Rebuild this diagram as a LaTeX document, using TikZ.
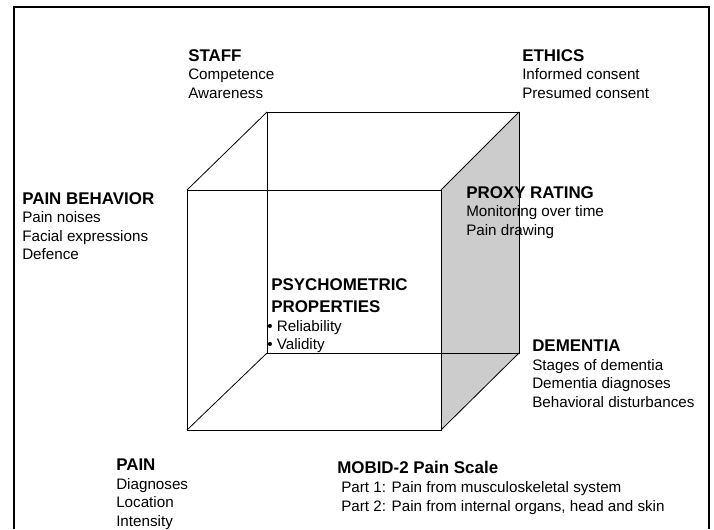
\documentclass[tikz,border=0pt]{standalone}
\usepackage{fontspec}
\setmainfont{Liberation Sans}
\newcommand{\hd}[1]{{\fontsize{12.7}{13.9}\selectfont\bfseries #1}}

\begin{document}
\begin{tikzpicture}[x=0.75pt, y=-0.75pt,
    block/.style={anchor=north west, inner sep=0pt, align=left, font=\fontsize{11.4}{13.9}\selectfont},
    edge/.style={black, line width=0.6pt}]
    \useasboundingbox (0,0) rectangle (714,529);
    \draw[line width=1.5pt] (14,529) -- (14,7) -- (709,7) -- (709,529);
    % corners of the cube
    \coordinate (F1) at (187,190);
    \coordinate (F2) at (441,190);
    \coordinate (F3) at (441,430);
    \coordinate (F4) at (187,430);
    \coordinate (B1) at (267,112);
    \coordinate (B2) at (519,112);
    \coordinate (B3) at (519,353);
    \coordinate (B4) at (267,353);
    \fill[black!20] (F2) -- (B2) -- (B3) -- (F3) -- cycle;
    \draw[edge] (B1) -- (B2) -- (B3) -- (B4) -- cycle;
    \draw[edge] (F1) -- (F2) -- (F3) -- (F4) -- cycle;
    \draw[edge] (F1) -- (B1);
    \draw[edge] (F2) -- (B2);
    \draw[edge] (F3) -- (B3);
    \draw[edge] (F4) -- (B4);
    % labels
    \node[block] (staff) at (188,49) {\hd{STAFF}\\Competence\\Awareness};
    \node[block] (ethics) at (522,49) {\hd{ETHICS}\\Informed consent\\Presumed consent};
    \node[block] (behavior) at (22,192) {\hd{PAIN BEHAVIOR}\\Pain noises\\Facial expressions\\Defence};
    \node[block] (proxy) at (466,186) {\hd{PROXY RATING}\\Monitoring over time\\Pain drawing};
    \node[block] (psycho) at (271,278) {\hd{PSYCHOMETRIC}\\[3pt]\hd{PROPERTIES}};
    \node[block] (props) at (267,320) {\textbullet{} Reliability\\\textbullet{} Validity};
    \node[block] (dementia) at (532,340) {\hd{DEMENTIA}\\Stages of dementia\\Dementia diagnoses\\Behavioral disturbances};
    \node[block] (pain) at (116,459) {\hd{PAIN}\\Diagnoses\\Location\\Intensity};
    \node[block] (mobid) at (337,461) {\hd{MOBID-2 Pain Scale}};
    \node[block, font=\fontsize{11.4}{14.6}\selectfont] (parts) at (341,481) {Part 1: Pain from musculoskeletal system\\Part 2: Pain from internal organs, head and skin};
\end{tikzpicture}
\end{document}
